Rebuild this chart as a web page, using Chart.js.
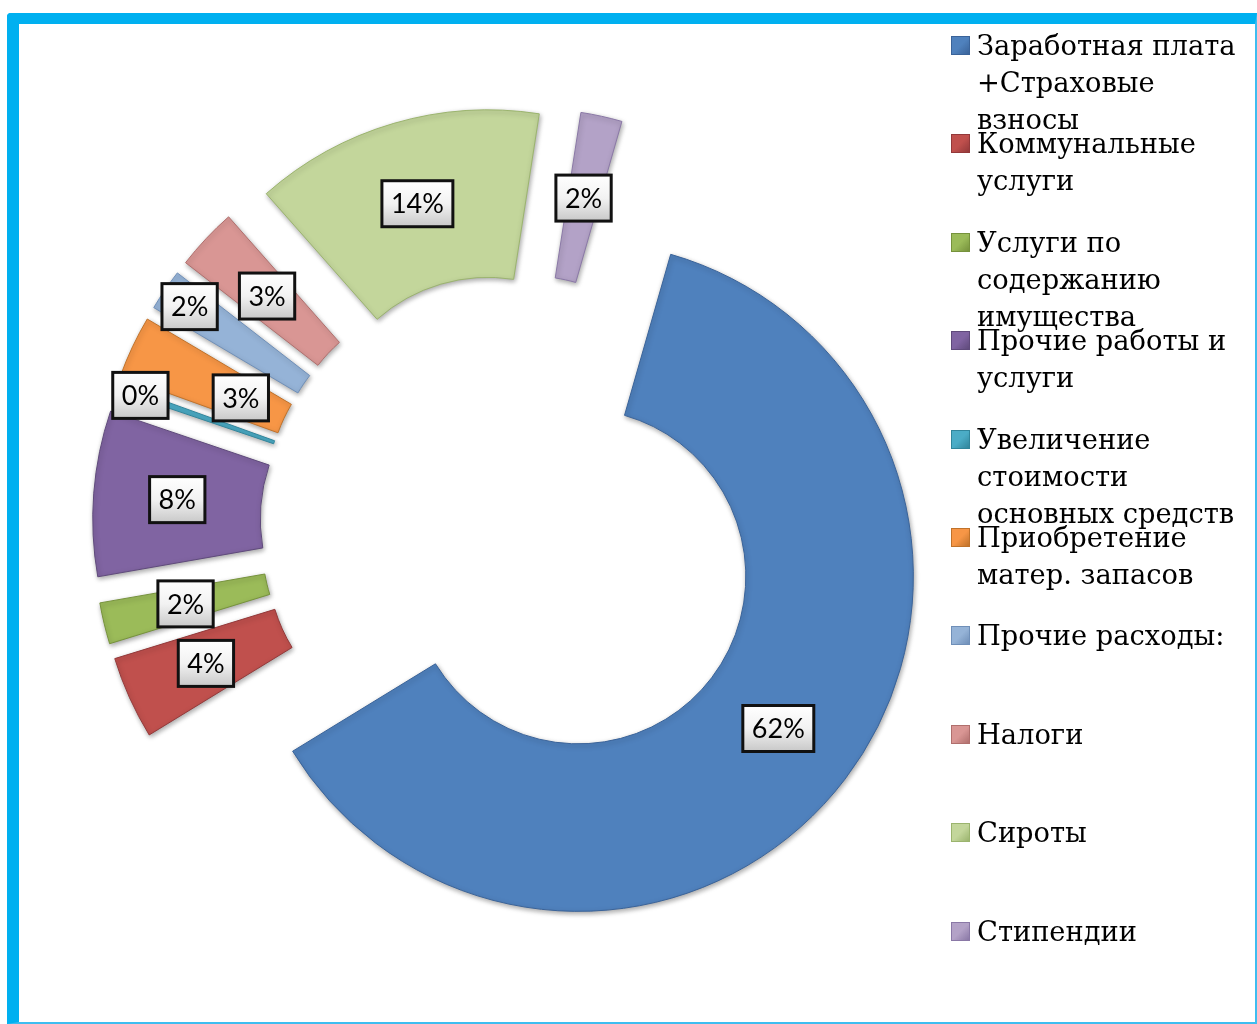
<!DOCTYPE html>
<html>
<head>
<meta charset="utf-8">
<script src="https://cdn.jsdelivr.net/npm/chart.js@4.4.1/dist/chart.umd.min.js"></script>
<style>
  html, body { margin: 0; padding: 0; background: #fff; }
  body { width: 1257px; height: 1024px; position: relative; overflow: hidden; }
  #frame {
    position: absolute; left: 7px; top: 13px; width: 1236px; height: 998px;
    border-left: 12px solid #00B0F0; border-top: 11px solid #00B0F0;
    border-right: 2px solid #3DBDF0; border-bottom: 2px solid #3DBDF0;
    border-top-left-radius: 4px;
  }
  #wrap { position: absolute; left: 0; top: 0; width: 1257px; height: 1024px; }
  #legend { position: absolute; left: 951px; top: 0; font-family: 'DejaVu Serif', serif; font-size: 27.3px; line-height: 37px; color: #000; }
  .item { position: absolute; left: 0; white-space: nowrap; }
  .mark { position: absolute; left: 0; top: 9px; width: 19px; height: 19px; box-sizing: border-box; }
  .txt { position: absolute; left: 26px; top: 0; }
</style>
</head>
<body>
<div id="frame"></div>
<div id="wrap"><canvas id="pie" width="1257" height="1024"></canvas></div>
<div id="legend"></div>
<script>
var labels = [
  ['Заработная плата', '+Страховые', 'взносы'],
  ['Коммунальные', 'услуги'],
  ['Услуги по', 'содержанию', 'имущества'],
  ['Прочие работы и', 'услуги'],
  ['Увеличение', 'стоимости', 'основных средств'],
  ['Приобретение', 'матер. запасов'],
  ['Прочие расходы:'],
  ['Налоги'],
  ['Сироты'],
  ['Стипендии']
];
var shares = [62, 4, 2, 8, 0.3, 3, 2, 3, 14, 2];
var colors = ['#4F81BD', '#C0504D', '#9BBB59', '#8064A2', '#4BACC6', '#F79646', '#95B3D7', '#D99694', '#C3D69B', '#B3A2C7'];
var edges  = ['#3A6399', '#93393A', '#76923C', '#5F4A7B', '#31859B', '#C0722A', '#6F8FB8', '#B06F6D', '#9BB46E', '#8A78A6'];

var EXPLODE = 84;
// radial nudge for the crowded labels on the left
var labelNudge = [0, 0, 0, 0, 58, -36, 54, 0, 0, 0];

var explodePlugin = {
  id: 'explode',
  afterDatasetUpdate: function(chart, args) {
    args.meta.data.forEach(function(arc) {
      var mid = (arc.startAngle + arc.endAngle) / 2;
      arc.x += Math.cos(mid) * EXPLODE;
      arc.y += Math.sin(mid) * EXPLODE;
    });
  },
  beforeDatasetsDraw: function(chart) {
    var ctx = chart.ctx;
    ctx.save();
    ctx.shadowColor = 'rgba(0,0,0,0.35)';
    ctx.shadowBlur = 5;
    ctx.shadowOffsetX = 1;
    ctx.shadowOffsetY = 2;
  },
  afterDatasetsDraw: function(chart) {
    chart.ctx.restore();
  }
};

var labelPlugin = {
  id: 'pctLabels',
  afterDraw: function(chart) {
    var ctx = chart.ctx;
    var meta = chart.getDatasetMeta(0);
    var total = shares.reduce(function(a, b) { return a + b; }, 0);
    ctx.save();
    ctx.font = '27px Lato';
    ctx.textAlign = 'center';
    ctx.textBaseline = 'middle';
    meta.data.forEach(function(arc, i) {
      var mid = (arc.startAngle + arc.endAngle) / 2;
      var r = (arc.innerRadius + arc.outerRadius) / 2 + labelNudge[i];
      var x = arc.x + Math.cos(mid) * r;
      var y = arc.y + Math.sin(mid) * r;
      var text = Math.round(shares[i] / total * 100) + '%';
      var w = ctx.measureText(text).width + 18, h = 46;
      var left = x - w / 2, top = y - h / 2;
      var g = ctx.createLinearGradient(0, top, 0, top + h);
      g.addColorStop(0, '#FFFFFF');
      g.addColorStop(0.5, '#F2F2F2');
      g.addColorStop(1, '#C8C8C8');
      ctx.fillStyle = g;
      ctx.fillRect(left, top, w, h);
      ctx.lineWidth = 3;
      ctx.strokeStyle = '#111';
      ctx.strokeRect(left, top, w, h);
      ctx.fillStyle = '#000';
      ctx.fillText(text, x, y + 1);
    });
    ctx.restore();
  }
};

var chart = new Chart(document.getElementById('pie'), {
  type: 'doughnut',
  data: {
    labels: labels,
    datasets: [{
      data: shares,
      backgroundColor: colors,
      borderColor: edges,
      borderWidth: 1
    }]
  },
  options: {
    responsive: false,
    animation: false,
    rotation: 16,
    cutout: '50%',
    layout: { padding: { left: 176, top: 190, right: 410, bottom: 163 } },
    plugins: {
      legend: { display: false },
      tooltip: { enabled: false }
    }
  },
  plugins: [explodePlugin, labelPlugin]
});

// legend built from the chart's own legend items
var legendBox = document.getElementById('legend');
var items = chart.options.plugins.legend.labels.generateLabels(chart);
items.forEach(function(it, i) {
  var div = document.createElement('div');
  div.className = 'item';
  div.style.top = (27 + 98.4 * i) + 'px';
  var mark = document.createElement('div');
  mark.className = 'mark';
  mark.style.background = 'linear-gradient(135deg, ' + colors[i] + ' 0%, ' + colors[i] + ' 50%, ' + edges[i] + ' 100%)';
  mark.style.border = '1px solid ' + edges[i];
  var txt = document.createElement('div');
  txt.className = 'txt';
  var lines = labels[it.index];
  txt.innerHTML = lines.join('<br>');
  div.appendChild(mark);
  div.appendChild(txt);
  legendBox.appendChild(div);
});
</script>
</body>
</html>
